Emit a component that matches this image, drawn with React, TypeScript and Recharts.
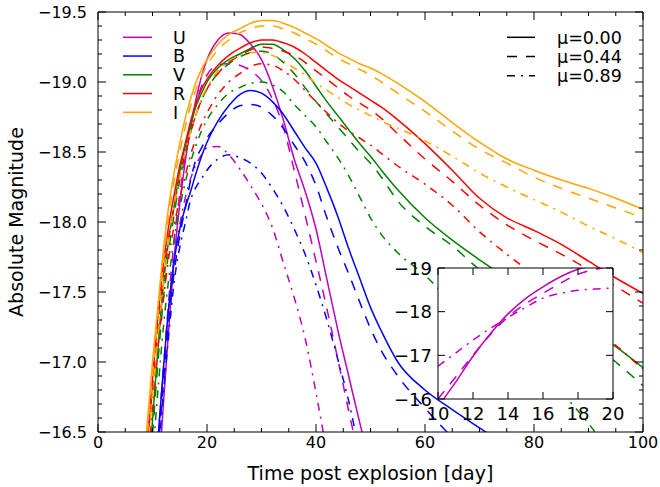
import React from 'react';
import { LineChart, Line, XAxis, YAxis } from 'recharts';

// ---- main panel data (time grid in days, absolute magnitudes) ----
const DAYS = [8, 9, 10, 11, 12, 13, 14, 15, 16, 17, 18, 19, 20, 22, 24, 26, 28, 30, 32, 34, 36, 38, 40, 42, 44, 46, 48, 50, 52, 55, 60, 65, 70, 75, 80, 85, 90, 95, 100];

const U_MU000 = [null, null, -15.6, -16.12, -16.7, -17.25, -17.75, -18.13, -18.43, -18.68, -18.88, -19.04, -19.16, -19.3, -19.35, -19.34, -19.27, -19.16, -18.97, -18.73, -18.45, -18.22, -17.95, -17.59, -17.23, -16.9, -16.57, -16.25, -15.9, null, null, null, null, null, null, null, null, null, null];
const U_MU044 = [null, null, -15.95, -16.42, -16.95, -17.45, -17.88, -18.2, -18.45, -18.68, -18.85, -18.97, -19.05, -19.12, -19.13, -19.12, -19.08, -19.01, -18.88, -18.68, -18.37, -18.05, -17.72, -17.38, -17.02, -16.65, -16.3, -15.95, null, null, null, null, null, null, null, null, null, null, null];
const U_MU089 = [null, null, -15.95, -16.45, -16.95, -17.4, -17.75, -17.98, -18.17, -18.31, -18.41, -18.48, -18.53, -18.54, -18.48, -18.38, -18.26, -18.13, -17.96, -17.71, -17.46, -17.17, -16.78, -16.35, -15.9, null, null, null, null, null, null, null, null, null, null, null, null, null, null];

const B_MU000 = [null, null, -15.9, -16.45, -16.95, -17.4, -17.73, -17.95, -18.1, -18.22, -18.35, -18.47, -18.57, -18.72, -18.83, -18.91, -18.94, -18.92, -18.86, -18.77, -18.65, -18.53, -18.42, -18.24, -18.04, -17.81, -17.6, -17.39, -17.22, -17.0, -16.8, -16.66, -16.53, -16.4, -16.28, null, null, null, null];
const B_MU044 = [null, null, -15.8, -16.35, -16.85, -17.3, -17.65, -17.9, -18.1, -18.3, -18.45, -18.53, -18.6, -18.7, -18.78, -18.83, -18.84, -18.82, -18.76, -18.67, -18.55, -18.43, -18.26, -18.03, -17.82, -17.63, -17.43, -17.24, -17.08, -16.9, -16.67, -16.46, -16.25, null, null, null, null, null, null];
const B_MU089 = [null, null, -15.9, -16.3, -16.78, -17.2, -17.58, -17.82, -17.99, -18.16, -18.25, -18.31, -18.37, -18.45, -18.48, -18.46, -18.42, -18.35, -18.24, -18.11, -17.95, -17.77, -17.55, -17.3, -17.02, -16.72, -16.35, -15.95, null, null, null, null, null, null, null, null, null, null, null];

const V_MU000 = [-15.5, -16.05, -16.58, -17.1, -17.55, -17.88, -18.12, -18.36, -18.54, -18.69, -18.83, -18.92, -19.0, -19.1, -19.16, -19.2, -19.24, -19.27, -19.27, -19.23, -19.17, -19.08, -18.97, -18.86, -18.76, -18.66, -18.56, -18.47, -18.37, -18.23, -18.03, -17.87, -17.73, -17.6, -17.48, -17.36, -17.24, -17.11, -16.96];
const V_MU044 = [-15.4, -15.95, -16.48, -17.0, -17.45, -17.8, -18.06, -18.3, -18.49, -18.64, -18.77, -18.87, -18.95, -19.06, -19.13, -19.18, -19.21, -19.22, -19.2, -19.14, -19.06, -18.96, -18.86, -18.77, -18.68, -18.59, -18.5, -18.42, -18.32, -18.15, -17.97, -17.83, -17.66, -17.53, -17.4, -17.27, -17.15, -17.0, -16.83];
const V_MU089 = [null, -15.8, -16.3, -16.8, -17.25, -17.6, -17.88, -18.1, -18.28, -18.43, -18.55, -18.65, -18.73, -18.84, -18.92, -18.96, -18.99, -19.0, -18.98, -18.93, -18.84, -18.76, -18.68, -18.57, -18.46, -18.33, -18.18, -18.03, -17.91, -17.78, -17.62, -17.42, -17.25, -17.09, -16.93, -16.78, -16.56, -16.3, -16.05];

const R_MU000 = [-15.9, -16.4, -16.88, -17.32, -17.7, -17.98, -18.2, -18.4, -18.56, -18.72, -18.85, -18.95, -19.02, -19.12, -19.19, -19.24, -19.28, -19.3, -19.3, -19.28, -19.25, -19.2, -19.14, -19.08, -19.02, -18.97, -18.92, -18.87, -18.82, -18.73, -18.56, -18.37, -18.17, -18.03, -17.94, -17.84, -17.72, -17.6, -17.49];
const R_MU044 = [-15.85, -16.35, -16.82, -17.26, -17.62, -17.9, -18.12, -18.32, -18.49, -18.64, -18.77, -18.87, -18.95, -19.06, -19.14, -19.19, -19.23, -19.25, -19.24, -19.22, -19.19, -19.14, -19.08, -19.02, -18.96, -18.9, -18.85, -18.8, -18.74, -18.63, -18.45, -18.29, -18.12, -17.98, -17.87, -17.77, -17.66, -17.54, -17.42];
const R_MU089 = [-15.7, -16.2, -16.68, -17.1, -17.45, -17.75, -17.98, -18.17, -18.33, -18.48, -18.6, -18.7, -18.78, -18.91, -19.0, -19.06, -19.11, -19.13, -19.12, -19.08, -19.02, -18.94, -18.86, -18.78, -18.71, -18.65, -18.6, -18.55, -18.49, -18.4, -18.27, -18.12, -17.93, -17.77, -17.62, -17.46, -17.29, -17.12, -16.95];

const I_MU000 = [-16.05, -16.55, -17.0, -17.4, -17.8, -18.12, -18.36, -18.56, -18.74, -18.88, -19.0, -19.09, -19.16, -19.27, -19.34, -19.38, -19.42, -19.44, -19.44, -19.42, -19.39, -19.35, -19.31, -19.26, -19.21, -19.17, -19.13, -19.1, -19.06, -18.99, -18.86, -18.71, -18.57, -18.45, -18.37, -18.3, -18.24, -18.17, -18.09];
const I_MU044 = [-15.95, -16.45, -16.9, -17.32, -17.72, -18.05, -18.3, -18.5, -18.68, -18.83, -18.95, -19.04, -19.12, -19.23, -19.3, -19.35, -19.38, -19.4, -19.4, -19.38, -19.35, -19.31, -19.27, -19.22, -19.17, -19.13, -19.09, -19.05, -19.0, -18.92, -18.79, -18.65, -18.52, -18.42, -18.32, -18.24, -18.17, -18.1, -18.03];
const I_MU089 = [-15.8, -16.3, -16.75, -17.18, -17.55, -17.87, -18.12, -18.32, -18.5, -18.65, -18.77, -18.88, -18.96, -19.08, -19.15, -19.19, -19.21, -19.21, -19.19, -19.15, -19.1, -19.05, -18.99, -18.94, -18.89, -18.84, -18.8, -18.76, -18.72, -18.67, -18.58, -18.47, -18.35, -18.25, -18.16, -18.07, -17.97, -17.88, -17.78];

// ---- inset data (U band, early rise) ----
const INSET_DAYS = [10, 10.5, 11, 12, 13, 14, 15, 16, 17, 18, 19, 20];
const INSET_MU000 = [-15.8, -16.1, -16.38, -16.98, -17.5, -17.95, -18.3, -18.57, -18.8, -18.97, -19.07, -19.15];
const INSET_MU044 = [-16.0, -16.25, -16.5, -17.0, -17.48, -17.88, -18.18, -18.42, -18.65, -18.86, -18.97, -19.05];
const INSET_MU089 = [-16.75, -16.9, -17.05, -17.35, -17.62, -17.87, -18.1, -18.31, -18.42, -18.49, -18.52, -18.54];

// ---- ticks / labels ----
const X_MAJOR = [0, 20, 40, 60, 80, 100];
const X_MINOR = [0, 5, 10, 15, 20, 25, 30, 35, 40, 45, 50, 55, 60, 65, 70, 75, 80, 85, 90, 95, 100];
const Y_MAJOR = [-19.5, -19.0, -18.5, -18.0, -17.5, -17.0, -16.5];
const Y_MINOR = Array.from({ length: 31 }, (_, i) => Math.round((-19.5 + i * 0.1) * 10) / 10);
const INSET_X_TICKS = [10, 12, 14, 16, 18, 20];
const INSET_Y_TICKS = [-19, -18, -17, -16];
const BANDS = ['U', 'B', 'V', 'R', 'I'];
const MU_LABELS = ['μ=0.00', 'μ=0.44', 'μ=0.89'];

const COLORS: Record<string, string> = { U: '#bf00bf', B: '#0000ff', V: '#008000', R: '#ff0000', I: '#ffa500' };
const DASHES = [undefined, '10 9', '8 6 2 6'];

const SERIES: Record<string, (number | null)[][]> = {
  U: [U_MU000, U_MU044, U_MU089],
  B: [B_MU000, B_MU044, B_MU089],
  V: [V_MU000, V_MU044, V_MU089],
  R: [R_MU000, R_MU044, R_MU089],
  I: [I_MU000, I_MU044, I_MU089],
};

const mainData = DAYS.map((t, i) => {
  const row: Record<string, number | null> = { t };
  BANDS.forEach((b) => SERIES[b].forEach((arr, k) => { row[`${b}${k}`] = arr[i]; }));
  return row;
});

const insetData = INSET_DAYS.map((t, i) => ({ t, m0: INSET_MU000[i], m1: INSET_MU044[i], m2: INSET_MU089[i] }));

const FONT = '"DejaVu Sans", Verdana, sans-serif';
const fmt1 = (v: number) => (v < 0 ? '\u2212' : '') + Math.abs(v).toFixed(1);
const fmt0 = (v: number) => (v < 0 ? '\u2212' : '') + Math.abs(v).toFixed(0);
const isIn = (v: number, arr: number[]) => arr.some((m) => Math.abs(m - v) < 1e-6);

// custom tick: receives the axis position (tickMargin == |tickSize|); draws the extra
// length of major tick marks and the labels.
type TickCfg = { majors: number[]; extra: number; base: number; fmt?: (v: number) => string; fs?: number; off?: number };
const makeTick = (side: 'bottom' | 'top' | 'left' | 'right', cfg: TickCfg) => (props: any) => {
  const { x, y, payload } = props;
  const v = Number(payload && payload.value);
  const maj = isIn(v, cfg.majors);
  const parts: any[] = [];
  if (maj && cfg.extra > 0) {
    const a = cfg.base, b = cfg.base + cfg.extra;
    let d = '';
    if (side === 'bottom') d = `M${x},${y - a}L${x},${y - b}`;
    else if (side === 'top') d = `M${x},${y + a}L${x},${y + b}`;
    else if (side === 'left') d = `M${x + a},${y}L${x + b},${y}`;
    else d = `M${x - a},${y}L${x - b},${y}`;
    parts.push(<path key="m" d={d} stroke="#000" strokeWidth={1} fill="none" />);
  }
  if (maj && cfg.fmt) {
    if (side === 'bottom') {
      parts.push(<text key="t" x={x} y={y + (cfg.off || 0)} textAnchor="middle" fontFamily={FONT} fontSize={cfg.fs} fill="#000">{cfg.fmt(v)}</text>);
    } else if (side === 'left') {
      parts.push(<text key="t" x={x - (cfg.off || 0)} y={y + (cfg.fs || 16) * 0.37} textAnchor="end" fontFamily={FONT} fontSize={cfg.fs} fill="#000">{cfg.fmt(v)}</text>);
    }
  }
  return <g>{parts}</g>;
};

const mainBottom = makeTick('bottom', { majors: X_MAJOR, base: 4, extra: 4, fmt: fmt0, fs: 16, off: 16 });
const mainTop = makeTick('top', { majors: X_MAJOR, base: 4, extra: 4 });
const mainLeft = makeTick('left', { majors: Y_MAJOR, base: 4, extra: 4, fmt: fmt1, fs: 16, off: 11 });
const mainRight = makeTick('right', { majors: Y_MAJOR, base: 4, extra: 4 });

const insBottom = makeTick('bottom', { majors: INSET_X_TICKS, base: 7, extra: 0, fmt: fmt0, fs: 18, off: 21 });
const insLeft = makeTick('left', { majors: INSET_Y_TICKS, base: 7, extra: 0, fmt: fmt0, fs: 18, off: 6 });
const noLabel = () => <g />;

const axisLine = { stroke: '#000', strokeWidth: 1 };
const tickLine = { stroke: '#000', strokeWidth: 1 };

export default function App() {
  return (
    <div style={{ position: 'absolute', left: 0, top: 0, width: 660, height: 487, background: '#fff', overflow: 'hidden' }}>
      <div style={{ position: 'absolute', left: 0, top: 0 }}>
        <LineChart width={660} height={487} data={mainData} margin={{ top: 11, right: 16, bottom: 0, left: 0 }}>
          <XAxis dataKey="t" type="number" domain={[0, 100]} ticks={X_MINOR} interval={0} height={55} tickSize={-4} tickMargin={4} tickLine={tickLine} axisLine={axisLine} tick={mainBottom} allowDataOverflow />
          <XAxis xAxisId="top" orientation="top" dataKey="t" type="number" domain={[0, 100]} ticks={X_MINOR} interval={0} height={1} tickSize={-4} tickMargin={4} tickLine={tickLine} axisLine={axisLine} tick={mainTop} allowDataOverflow />
          <YAxis type="number" domain={[-19.5, -16.5]} reversed ticks={Y_MINOR} interval={0} width={98} tickSize={-4} tickMargin={4} tickLine={tickLine} axisLine={axisLine} tick={mainLeft} allowDataOverflow />
          <YAxis yAxisId="right" orientation="right" type="number" domain={[-19.5, -16.5]} reversed ticks={Y_MINOR} interval={0} width={1} tickSize={-4} tickMargin={4} tickLine={tickLine} axisLine={axisLine} tick={mainRight} allowDataOverflow />
          {BANDS.map((b) => [0, 1, 2].map((k) => (
            <Line key={`${b}${k}`} dataKey={`${b}${k}`} type="monotone" stroke={COLORS[b]} strokeWidth={1.5} strokeDasharray={DASHES[k]} dot={false} activeDot={false} isAnimationActive={false} connectNulls={false} />
          )))}
        </LineChart>
      </div>

      <svg width={660} height={487} style={{ position: 'absolute', left: 0, top: 0 }}>
        {BANDS.map((b, i) => {
          const y = 37.3 + i * 18.75;
          return (
            <g key={b}>
              <line x1={123} x2={152} y1={y} y2={y} stroke={COLORS[b]} strokeWidth={1.5} />
              <text x={173} y={y + 6.4} fontFamily={FONT} fontSize={17.5} fill="#000">{b}</text>
            </g>
          );
        })}
        {MU_LABELS.map((m, i) => {
          const y = 37.3 + i * 19.2;
          return (
            <g key={m}>
              <line x1={507} x2={535} y1={y} y2={y} stroke="#000" strokeWidth={1.5} strokeDasharray={DASHES[i]} />
              <text x={557} y={y + 6.4} fontFamily={FONT} fontSize={17.5} fill="#000">{m}</text>
            </g>
          );
        })}
        <text x={370.5} y={480} textAnchor="middle" fontFamily={FONT} fontSize={19} fill="#000">Time post explosion [day]</text>
        <text x={23} y={222} textAnchor="middle" fontFamily={FONT} fontSize={19} fill="#000" transform="rotate(-90 23 222)">Absolute Magnitude</text>
      </svg>

      <div style={{ position: 'absolute', left: 438, top: 268, width: 175, height: 131, background: '#fff' }} />

      <div style={{ position: 'absolute', left: 0, top: 0 }}>
        <LineChart width={660} height={487} data={insetData} margin={{ top: 267, right: 46, bottom: 0, left: 0 }}>
          <XAxis dataKey="t" type="number" domain={[10, 20]} ticks={INSET_X_TICKS} interval={0} height={88} tickSize={-7} tickMargin={7} tickLine={tickLine} axisLine={axisLine} tick={insBottom} allowDataOverflow />
          <XAxis xAxisId="top" orientation="top" dataKey="t" type="number" domain={[10, 20]} ticks={INSET_X_TICKS} interval={0} height={1} tickSize={-7} tickMargin={7} tickLine={tickLine} axisLine={axisLine} tick={noLabel} allowDataOverflow />
          <YAxis type="number" domain={[-19, -16]} reversed ticks={INSET_Y_TICKS} interval={0} width={438} tickSize={-7} tickMargin={7} tickLine={tickLine} axisLine={axisLine} tick={insLeft} allowDataOverflow />
          <YAxis yAxisId="right" orientation="right" type="number" domain={[-19, -16]} reversed ticks={INSET_Y_TICKS} interval={0} width={1} tickSize={-7} tickMargin={7} tickLine={tickLine} axisLine={axisLine} tick={noLabel} allowDataOverflow />
          {['m0', 'm1', 'm2'].map((k, i) => (
            <Line key={k} dataKey={k} type="monotone" stroke={COLORS.U} strokeWidth={1.5} strokeDasharray={DASHES[i]} dot={false} activeDot={false} isAnimationActive={false} />
          ))}
        </LineChart>
      </div>
    </div>
  );
}
